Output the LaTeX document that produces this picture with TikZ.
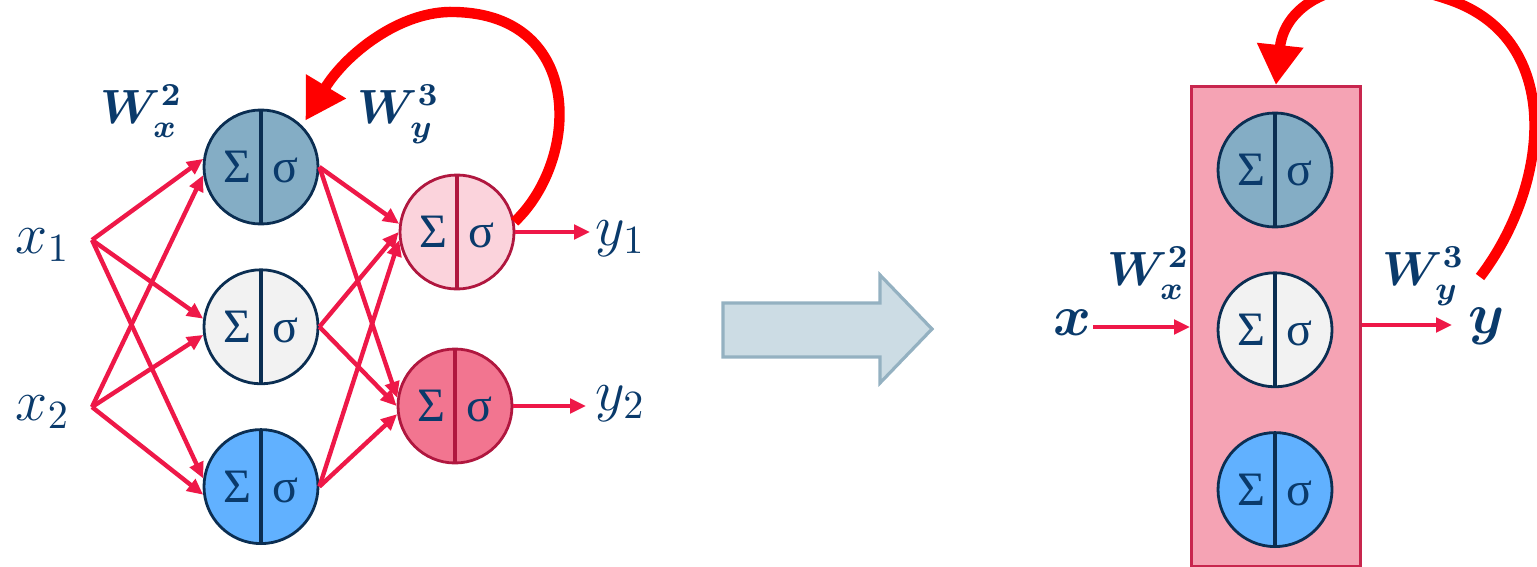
\documentclass[tikz,border=0pt]{standalone}
\usepackage{amsmath}
\usepackage{fontspec}
\newfontfamily\grkfont{Liberation Serif}
\usetikzlibrary{positioning,arrows.meta}

\definecolor{navy}{HTML}{0B2E52}
\definecolor{txtblue}{HTML}{0A3A6B}
\definecolor{hone}{HTML}{84ADC5}
\definecolor{htwo}{HTML}{F2F2F2}
\definecolor{hthree}{HTML}{61B1FF}
\definecolor{oone}{HTML}{FBD3DC}
\definecolor{otwo}{HTML}{F27590}
\definecolor{oborder}{HTML}{B0173F}
\definecolor{edgered}{HTML}{EE1848}
\definecolor{fbred}{HTML}{FF0000}
\definecolor{boxfill}{HTML}{F5A3B4}
\definecolor{boxborder}{HTML}{C8264E}
\definecolor{bigfill}{HTML}{CCDCE4}
\definecolor{bigborder}{HTML}{94B1C1}

\newcommand{\sumsig}{\makebox[12pt]{\grkfont Σ}\makebox[12pt]{\grkfont σ}}

\begin{document}
\begin{tikzpicture}[
  x=0.25pt, y=-0.25pt,
  node distance=10.75pt,
  neuron/.style={circle, draw=#1, line width=0.7pt, minimum size=28.5pt, inner sep=0pt,
    text=txtblue, font=\large,
    path picture={\draw[#1, line width=0.8pt] (path picture bounding box.north) -- (path picture bounding box.south);}},
  lbl/.style={anchor=base west, inner sep=0pt, text=txtblue, font=\Large},
  wlbl/.style={anchor=base west, inner sep=0pt, text=txtblue, font=\large\boldmath},
  arr/.style={draw=edgered, line width=1.1pt, -{Triangle[length=4pt, width=3.6pt]}},
  fb/.style={draw=fbred, line width=2.6pt, -{Triangle[length=10pt, width=11pt]}}
]
\useasboundingbox (0,0) rectangle (1537,566);
\clip (0,0) rectangle (1537,566);

% unrolled network
\node[neuron=navy, fill=hone] (h1) at (261,167) {\sumsig};
\node[neuron=navy, fill=htwo, below=of h1] (h2) {\sumsig};
\node[neuron=navy, fill=hthree, below=of h2] (h3) {\sumsig};
\node[neuron=oborder, fill=oone] (o1) at (457,232) {\sumsig};
\node[neuron=oborder, fill=otwo] (o2) at (455,406) {\sumsig};

\coordinate (x1) at (92,240);
\coordinate (x2) at (92,407);
\coordinate (t1) at (590,232);
\coordinate (t2) at (586,406);

\node[lbl] (lx1) at (15,253) {$x_1$};
\node[lbl] (lx2) at (15,420) {$x_2$};
\node[lbl] (ly1) at (595,245) {$y_1$};
\node[lbl] (ly2) at (595,410) {$y_2$};
\node[wlbl] (wx) at (100,123) {$W_x^2$};
\node[wlbl] (wy) at (357,123) {$W_y^3$};

\foreach \h in {h1,h2,h3} {
  \draw[arr] (x1) -- (\h.172);
  \draw[arr] (x2) -- (\h.188);
}
\foreach \h/\a in {h1/172,h2/180,h3/188} {
  \draw[arr] (\h.east) -- (o1.\a);
  \draw[arr] (\h.east) -- (o2.\a);
}
\draw[arr] (o1.east) -- (o1.east -| t1);
\draw[arr] (o2.east) -- (o2.east -| t2);

\draw[fb, shorten >=1.5pt] (o1.10) .. controls (580,160) and (585,15) .. (455,12)
  .. controls (400,10) and (345,55) .. (h1.45);

% big arrow
\draw[fill=bigfill, draw=bigborder, line width=0.8pt] (723,303) -- (880,303) -- (880,275)
  -- (932,329) -- (880,383) -- (880,357) -- (723,357) -- cycle;

% folded layer
\node[draw=boxborder, fill=boxfill, line width=0.7pt, minimum width=42.25pt, minimum height=120pt,
  anchor=north west, inner sep=0pt] (box) at (1190,85) {};
\node[neuron=navy, fill=hone] (c1) at (1275,170) {\sumsig};
\node[neuron=navy, fill=htwo, below=of c1] (c2) {\sumsig};
\node[neuron=navy, fill=hthree, below=of c2] (c3) {\sumsig};

\coordinate (xin) at (1093,327);
\coordinate (yout) at (1452,325);
\coordinate (rfb) at (1480,277);

\node[lbl, font=\Large\boldmath] (lx) at (1053,335) {$x$};
\node[lbl, font=\Large\boldmath] (ly) at (1468,333) {$y$};
\node[wlbl] (wxr) at (1107,285) {$W_x^2$};
\node[wlbl] (wyr) at (1382,285) {$W_y^3$};

\draw[arr] (xin) -- (xin -| box.west);
\draw[arr] (box.east |- yout) -- (yout);

\draw[fb] (rfb) .. controls (1550,185) and (1565,40) .. (1450,0)
  .. controls (1350,-35) and (1285,0) .. (box.north);
\end{tikzpicture}
\end{document}
